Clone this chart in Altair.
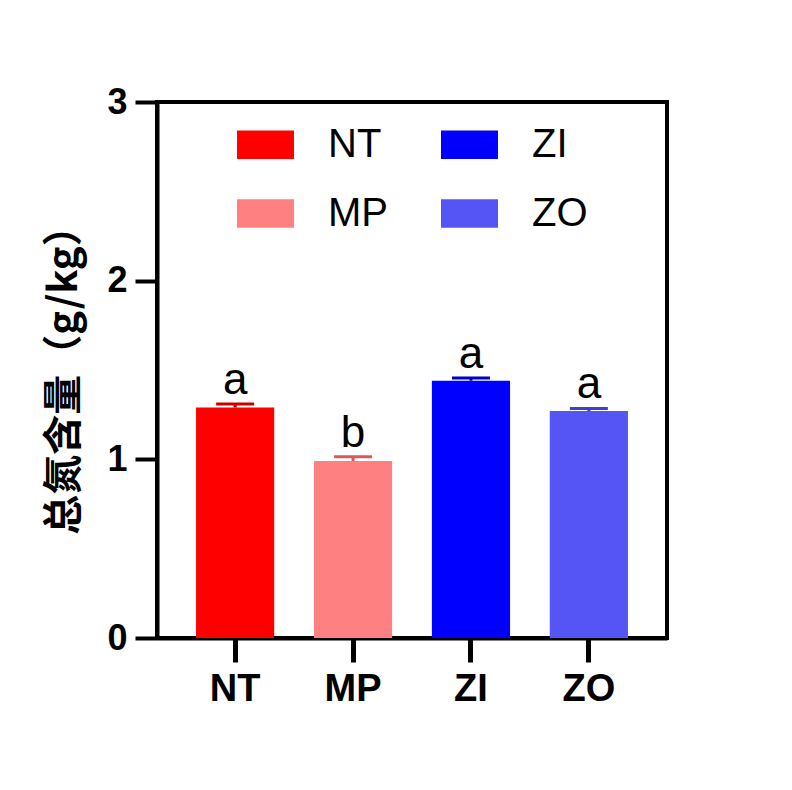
import altair as alt
import pandas as pd

categories = ["NT", "MP", "ZI", "ZO"]
values = [1.29, 0.99, 1.44, 1.27]
errors = [0.02, 0.025, 0.015, 0.015]
letters = ["a", "b", "a", "a"]

bar_colors = {"NT": "#FF0000", "MP": "#FF8080", "ZI": "#0000FF", "ZO": "#5555F5"}
err_colors = {"NT": "#C80000", "MP": "#D85A5A", "ZI": "#0000C0", "ZO": "#4040C8"}

df = pd.DataFrame({
    "group": categories,
    "value": values,
    "err": errors,
    "letter": letters,
})
df["upper"] = df["value"] + df["err"]
df["ecolor"] = [err_colors[c] for c in categories]

FONT = "Liberation Sans"

x_enc = alt.X(
    "group:N",
    sort=categories,
    title=None,
    scale=alt.Scale(paddingInner=0.337, paddingOuter=0.331),
    axis=alt.Axis(
        labelAngle=0, labelFontSize=38, labelFontWeight="bold", labelFont=FONT,
        labelColor="black", tickSize=24, tickWidth=5, tickColor="black",
        domainWidth=4, domainColor="black", labelPadding=8, grid=False,
    ),
)

y_scale = alt.Scale(domain=[0, 3], nice=False)

bars = alt.Chart(df).mark_bar(opacity=1).encode(
    x=x_enc,
    y=alt.Y(
        "value:Q",
        scale=y_scale,
        title="总氮含量（g/kg）",
        axis=alt.Axis(
            values=[0, 1, 2, 3], format="d", labelFontSize=36, labelFontWeight="bold",
            labelFont=FONT, labelColor="black", tickSize=22, tickWidth=4,
            tickColor="black", domainWidth=4, domainColor="black", labelPadding=8,
            grid=False, titleFont="Noto Sans CJK SC", titleFontSize=40,
            titleFontWeight="bold", titleColor="black", titlePadding=22,
        ),
    ),
    color=alt.Color(
        "group:N",
        scale=alt.Scale(domain=categories, range=[bar_colors[c] for c in categories]),
        legend=alt.Legend(
            title=None, orient="none", legendX=80, legendY=14, columns=2,
            symbolType="M-1,-0.5H1V0.5H-1Z", symbolSize=3249, symbolStrokeWidth=0,
            symbolOpacity=1,
            labelFont=FONT, labelFontSize=40, labelColor="black", labelOffset=34,
            columnPadding=53, rowPadding=20, padding=0,
        ),
    ),
)

err_rule = alt.Chart(df).mark_rule(strokeWidth=3, opacity=1).encode(
    x=alt.X("group:N", sort=categories),
    y=alt.Y("value:Q", scale=y_scale),
    y2="upper:Q",
    color=alt.Color("ecolor:N", scale=None),
)

err_cap = alt.Chart(df).mark_tick(thickness=3, size=38, opacity=1).encode(
    x=alt.X("group:N", sort=categories),
    y=alt.Y("upper:Q", scale=y_scale),
    color=alt.Color("ecolor:N", scale=None),
)

labels = alt.Chart(df).mark_text(
    font=FONT, fontSize=44, color="black", baseline="alphabetic", dy=-10
).encode(
    x=alt.X("group:N", sort=categories),
    y=alt.Y("upper:Q", scale=y_scale),
    text="letter:N",
)

chart = alt.layer(bars, err_rule, err_cap, labels).properties(
    width=510, height=536,
    background="white",
    autosize=alt.AutoSizeParams(type="none"),
    padding={"left": 149, "top": 94, "right": 110, "bottom": 130},
).configure_view(
    stroke="black", strokeWidth=4
).configure_legend(
    symbolOpacity=1
)

chart.save("out.html", embed_options={"renderer": "svg", "actions": False})
